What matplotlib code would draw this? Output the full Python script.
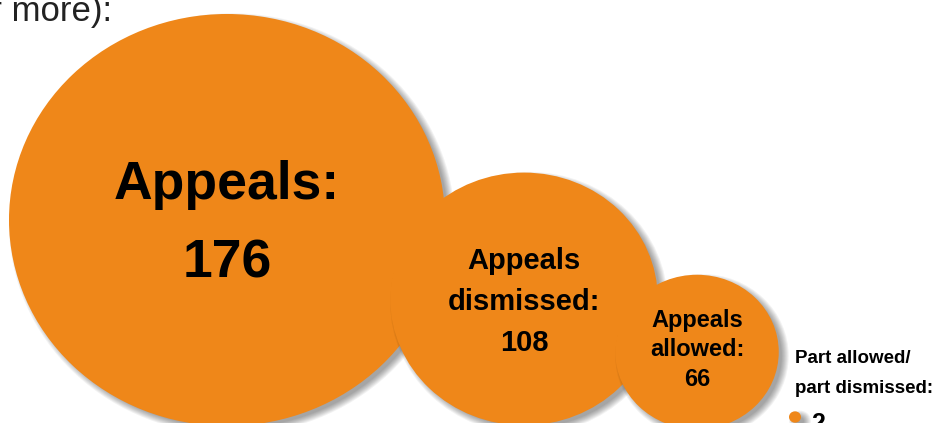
import matplotlib
matplotlib.use("Agg")
import matplotlib.pyplot as plt
from matplotlib.patches import Ellipse

plt.rcParams['font.family'] = ['Liberation Sans', 'DejaVu Sans']

# 数据
labels = ["Appeals:\n176", "Appeals\ndismissed:\n108", "Appeals\nallowed:\n66"]
values = [176, 108, 66]
part_label = "Part allowed/\npart dismissed:"
part_value = 2

# 布局 (像素坐标)
centers = [(227, 220), (524, 299), (697, 352)]
text_dy = [4, 3, -2]
font_sizes = [38.5, 21, 17]
line_gaps = [1.74, 1.61, 1.35]
scale = 218 / 176  # 半径与数值成正比
squash = 0.945     # 原图略微压扁
orange = "#EF8719"

fig = plt.figure(figsize=(9.36, 4.23), dpi=100)
ax = fig.add_axes([0, 0, 1, 1])
ax.set_xlim(0, 936)
ax.set_ylim(423, 0)
ax.axis("off")


def bubble(cx, cy, r, z):
    # 柔和阴影
    for i in range(8):
        ax.add_patch(Ellipse((cx + 5, cy + 4), 2 * (r + 5 - i), 2 * (r + 5 - i) * squash,
                             color="black", alpha=0.05, lw=0, zorder=z))
    ax.add_patch(Ellipse((cx, cy), 2 * r, 2 * r * squash, color=orange, lw=0, zorder=z + 0.5))


for i, (v, (cx, cy)) in enumerate(zip(values, centers)):
    bubble(cx, cy, v * scale, i * 2)
    ax.text(cx, cy + text_dy[i], labels[i], ha="center", va="center",
            fontsize=font_sizes[i], fontweight="bold", color="black",
            linespacing=line_gaps[i], zorder=i * 2 + 1)

# 很小的那个
bubble(795, 417, max(part_value * scale, 6), 8)
ax.text(795, 373.5, part_label, ha="left", va="center", fontsize=13.5,
        fontweight="bold", linespacing=1.98, zorder=10)
ax.text(811, 431, str(part_value), ha="left", va="baseline", fontsize=18,
        fontweight="bold", zorder=10)

# 上方被截断的文字
ax.text(112, 21, "or more):", ha="right", va="baseline", fontsize=25,
        color="#222222", zorder=10)

fig.savefig("out.png", dpi=100)
